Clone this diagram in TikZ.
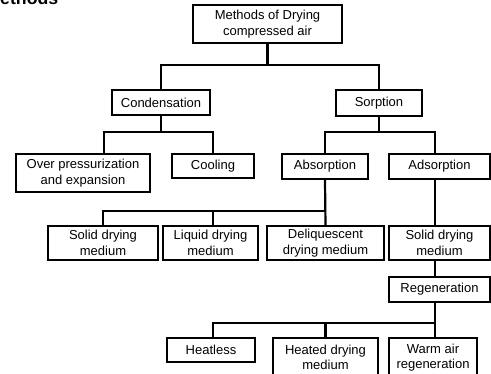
\documentclass[tikz,border=0pt]{standalone}
\usepackage{fontspec}
\setmainfont{Liberation Sans}
\begin{document}
\begin{tikzpicture}[x=1pt,y=-1pt,
    box/.style={draw, line width=2.2pt, align=center, inner sep=0pt, font=\fontsize{13}{15.5}\selectfont},
    link/.style={line width=2.2pt, line cap=rect}]
        \useasboundingbox (0,0) rectangle (491,374);
        \clip (0,0) rectangle (491,374);
        % title
        \node[anchor=base west, inner sep=0pt, font=\fontsize{17.7}{20}\selectfont\bfseries] (title) at (-14.7,5) {Methods};
        % top
        \node[box, minimum width=149, minimum height=38] (top) at (267.5,24) {Methods of Drying\\compressed air};
        % level 1
        \node[box, minimum width=98, minimum height=25] (cond) at (161,102.5) {Condensation};
        \node[box, minimum width=86, minimum height=26] (sorp) at (379,103) {Sorption};
        % level 2
        \node[box, minimum width=134, minimum height=38] (over) at (83,173) {Over pressurization\\and expansion};
        \node[box, minimum width=82, minimum height=24] (cool) at (213,166) {Cooling};
        \node[box, minimum width=86, minimum height=25] (absorp) at (325,166.5) {Absorption};
        \node[box, minimum width=101, minimum height=25] (adsorp) at (439.5,166.5) {Adsorption};
        % level 3
        \node[box, minimum width=110, minimum height=34] (solid1) at (103,243) {Solid drying\\medium};
        \node[box, minimum width=95, minimum height=34] (liquid) at (210.5,243) {Liquid drying\\medium};
        \node[box, minimum width=117, minimum height=34] (deliq) at (325.5,243) {Deliquescent\\drying medium};
        \node[box, minimum width=101, minimum height=34] (solid2) at (439.5,243) {Solid drying\\medium};
        % regeneration
        \node[box, minimum width=101, minimum height=25] (regen) at (439.5,289.5) {Regeneration};
        \node[box, minimum width=88, minimum height=24] (heatless) at (211,350) {Heatless};
        \node[box, minimum width=105, minimum height=39] (heated) at (325.5,357.5) {Heated drying\\medium};
        \node[box, minimum width=88, minimum height=39] (warm) at (433,357.5) {Warm air\\regeneration};
        % links level 1
        \draw[link] (top.south) -- ++(0,21) coordinate (j0);
        \draw[link] (cond.north) |- (j0) -| (sorp.north);
        % links level 2
        \draw[link] (cond.south) -- ++(0,16) coordinate (j1);
        \draw[link] ([xshift=21]over.north) |- (j1) -| (cool.north);
        \draw[link] (sorp.south) -- ++(0,15) coordinate (j2);
        \draw[link] (absorp.north) |- (j2) -| ([xshift=-4.5]adsorp.north);
        % links level 3
        \path (absorp.south) ++(0,31) coordinate (j3);
        \draw[link] (absorp.south) -- (deliq.north);
        \draw[link] (solid1.north) |- (j3);
        \draw[link] ([xshift=2.5]liquid.north) -- ([xshift=2.5]liquid.north |- j3);
        \draw[link] ([xshift=-4.5]adsorp.south) -- ([xshift=-4.5]solid2.north);
        \draw[link] ([xshift=-4.5]solid2.south) -- ([xshift=-4.5]regen.north);
        % links regeneration
        \draw[link] ([xshift=-4.5]regen.south) -- ++(0,20) coordinate (j4);
        \draw[link] (j4) -| ([xshift=2]heatless.north);
        \draw[link] (heated.north) -- (heated.north |- j4);
        \draw[link] ([xshift=2]warm.north) -- ([xshift=2]warm.north |- j4);
\end{tikzpicture}
\end{document}
